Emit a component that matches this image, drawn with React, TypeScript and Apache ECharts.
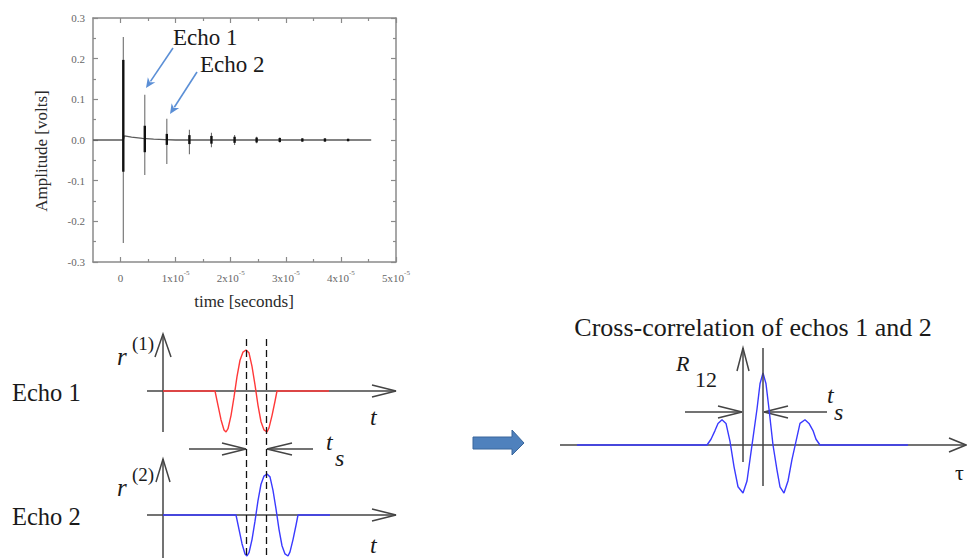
import React, { useEffect, useRef } from 'react';
import * as echarts from 'echarts';

// ---------- Top plot data (time in units of 1e-5 s, amplitude in volts) ----------
const echoTimes = [0.05, 0.44, 0.84, 1.25, 1.65, 2.07, 2.47, 2.89, 3.3, 3.71, 4.13];
const echoMax = [0.253, 0.111, 0.052, 0.025, 0.018, 0.012, 0.008, 0.006, 0.004, 0.004, 0.003];
const echoMin = [-0.253, -0.086, -0.059, -0.035, -0.018, -0.012, -0.008, -0.006, -0.004, -0.004, -0.003];
const coreMax = [0.197, 0.035, 0.015, 0.012, 0.01, 0.008, 0.006, 0.005, 0.004, 0.004, 0.003];
const coreMin = [-0.078, -0.03, -0.012, -0.01, -0.009, -0.007, -0.006, -0.005, -0.004, -0.004, -0.003];
const baseT = [-0.5, 0.05, 0.07, 0.2, 0.4, 0.6, 0.8, 1.0, 4.55];
const baseAmp = [0, 0, 0.01, 0.007, 0.004, 0.002, 0.001, 0, 0];
const xMajorTicks = [0, 1, 2, 3, 4, 5];
const xMinorTicks = [0.5, 1.5, 2.5, 3.5, 4.5];

// ---------- Echo pulse schematic ----------
const pulseOffset = [0, 3, 6, 9, 11, 13, 16, 19, 22, 25, 28, 31, 34, 37, 40, 43, 46, 49, 52, 54, 57, 60, 62];
const pulseAmp = [0, -0.35, -0.7, -0.95, -1, -0.92, -0.6, -0.15, 0.35, 0.75, 0.95, 1, 0.93, 0.6, 0.15, -0.35, -0.75, -0.95, -1, -0.9, -0.6, -0.25, 0];
const echo1Start = 52;
const echo1End = 166;
const echo2Start = 73;
const echo2End = 167;

// ---------- Cross-correlation schematic ----------
const xcorrT = [17, 147, 151, 155, 158, 162, 166, 170, 174, 178, 183, 187, 190, 193, 197, 200, 203, 206, 209, 213, 217, 220, 224, 228, 232, 236, 240, 245, 249, 253, 256, 260, 348];
const xcorrAmp = [0, 0, 0.08, 0.2, 0.3, 0.35, 0.3, 0.05, -0.3, -0.58, -0.667, -0.5, -0.2, 0.1, 0.5, 0.85, 1, 0.85, 0.5, 0, -0.35, -0.58, -0.667, -0.5, -0.2, 0.05, 0.3, 0.35, 0.3, 0.2, 0.08, 0, 0];

const FONT = 'Liberation Serif, serif';

function seg(x1: number, y1: number, x2: number, y2: number, stroke = '#444', lineWidth = 1.5, lineDash?: number[], z = 1) {
  return { type: 'line', z, silent: true, shape: { x1, y1, x2, y2 }, style: { stroke, lineWidth, lineDash } };
}
function poly(points: number[][], stroke = '#444', lineWidth = 1.5) {
  return { type: 'polyline', silent: true, shape: { points }, style: { stroke, lineWidth, fill: null } };
}
function txt(x: number, y: number, text: string, size: number, opts: any = {}) {
  return {
    type: 'text', silent: true, x, y, rotation: opts.rotation || 0,
    style: {
      text, fill: opts.color || '#1a1a1a', fontFamily: FONT, fontSize: size,
      fontStyle: opts.italic ? 'italic' : 'normal',
      align: opts.align || 'left', verticalAlign: 'middle',
    },
  };
}
function blueArrow(x1: number, y1: number, x2: number, y2: number) {
  const dx = x2 - x1, dy = y2 - y1;
  const L = Math.hypot(dx, dy);
  const ux = dx / L, uy = dy / L;
  const px = -uy, py = ux;
  const hl = 10, hw = 4.5;
  const bx = x2 - ux * hl, by = y2 - uy * hl;
  return [
    seg(x1, y1, bx + ux * 2, by + uy * 2, '#5b8fd6', 1.6),
    { type: 'polygon', silent: true, shape: { points: [[x2, y2], [bx + px * hw, by + py * hw], [bx + ux * 3, by + uy * 3], [bx - px * hw, by - py * hw]] }, style: { fill: '#5b8fd6' } },
  ];
}

export default function App() {
  const ref = useRef<HTMLDivElement>(null);
  useEffect(() => {
    if (!ref.current) return;
    const chart = echarts.init(ref.current, null, { renderer: 'svg' });

    const baseData = baseT.map((t, i) => [t, baseAmp[i]]);
    const spikeData = echoTimes.map((t, i) => [t, echoMax[i], echoMin[i]]);
    const coreData = echoTimes.map((t, i) => [t, coreMax[i], coreMin[i]]);
    const echo1Data = [[0, 0], ...pulseOffset.map((o, i) => [echo1Start + o, pulseAmp[i]]), [echo1End, 0]];
    const echo2Data = [[0, 0], ...pulseOffset.map((o, i) => [echo2Start + o, pulseAmp[i]]), [echo2End, 0]];
    const xcorrData = xcorrT.map((t, i) => [t, xcorrAmp[i]]);

    const axisGray = '#8a8a8a';
    const frameX = (position: string, ticks: number[], len: number, labels: boolean, line: boolean) => ({
      type: 'value', gridIndex: 0, position, min: -0.5, max: 5,
      axisLine: { show: line, onZero: false, lineStyle: { color: axisGray, width: 1.5 } },
      axisTick: { show: true, inside: true, length: len, customValues: ticks, lineStyle: { color: axisGray, width: 1.2 } },
      axisLabel: labels ? {
        show: true, customValues: xMajorTicks, margin: 7, color: '#666',
        formatter: (v: number) => (v === 0 ? '{n|0}' : `{n|${v}x10}{s|-5}`),
        rich: {
          n: { fontFamily: FONT, fontSize: 11, color: '#666', lineHeight: 14, verticalAlign: 'bottom' },
          s: { fontFamily: FONT, fontSize: 7, color: '#666', lineHeight: 14, verticalAlign: 'top' },
        },
      } : { show: false },
      splitLine: { show: false },
    });
    const frameY = (position: string, labels: boolean) => ({
      type: 'value', gridIndex: 0, position, min: -0.3, max: 0.3, interval: 0.1,
      axisLine: { show: true, onZero: false, lineStyle: { color: axisGray, width: 1.5 } },
      axisTick: { show: true, inside: true, length: 5, lineStyle: { color: axisGray, width: 1.2 } },
      minorTick: { show: true, splitNumber: 2, length: 3, lineStyle: { color: axisGray, width: 1.2 } },
      axisLabel: labels ? { show: true, margin: 8, color: '#666', fontFamily: FONT, fontSize: 11, formatter: (v: number) => v.toFixed(1) } : { show: false },
      splitLine: { show: false },
    });
    const hiddenX = (gridIndex: number, max: number) => ({ type: 'value', gridIndex, min: 0, max, show: false });
    const hiddenY = (gridIndex: number, min: number, max: number) => ({ type: 'value', gridIndex, min, max, show: false });

    const spikeRender = (color: string, width: number) => (params: any, api: any) => {
      const p1 = api.coord([api.value(0), api.value(1)]);
      const p2 = api.coord([api.value(0), api.value(2)]);
      return { type: 'line', shape: { x1: p1[0], y1: p1[1], x2: p2[0], y2: p2[1] }, style: { stroke: color, lineWidth: width } };
    };

    const graphics: any[] = [
      // top plot titles
      txt(41, 151, 'Amplitude [volts]', 17, { rotation: Math.PI / 2, align: 'center', color: '#2a2a2a' }),
      txt(244, 301, 'time [seconds]', 17, { align: 'center', color: '#2a2a2a' }),
      txt(173, 37, 'Echo 1', 23),
      txt(200, 64, 'Echo 2', 23),
      ...blueArrow(173, 48, 146, 88),
      ...blueArrow(197, 72, 170, 114),

      // Echo 1 schematic axes
      seg(163, 334, 163, 432),
      poly([[155, 357], [163, 334], [171, 357]]),
      seg(147, 391, 396, 391),
      poly([[372, 385], [396, 391], [372, 397]]),
      // Echo 2 schematic axes
      seg(163, 459, 163, 558),
      poly([[156, 482], [163, 459], [170, 482]]),
      seg(147, 515, 396, 515),
      poly([[372, 509], [396, 515], [372, 521]]),
      // dashed markers
      seg(246.5, 339, 246.5, 558, '#111', 1.3, [7, 4], 10),
      seg(266.5, 339, 266.5, 558, '#111', 1.3, [7, 4], 10),
      // t_s arrows (left)
      seg(189, 449, 246, 449),
      poly([[222, 443], [246, 449], [222, 455]]),
      seg(313, 449, 267, 449),
      poly([[292, 443], [267, 449], [292, 455]]),
      txt(326, 442, 't', 24, { italic: true }),
      txt(335, 458, 's', 24, { italic: true }),

      // labels left
      txt(12, 392, 'Echo 1', 24.5),
      txt(12, 516, 'Echo 2', 24.5),
      txt(117, 356, 'r', 25, { italic: true }),
      txt(132, 343, '(1)', 19),
      txt(117, 487, 'r', 25, { italic: true }),
      txt(132, 474, '(2)', 19),
      txt(370, 417, 't', 24, { italic: true }),
      txt(370, 545, 't', 24, { italic: true }),

      // big blue arrow
      { type: 'polygon', silent: true, shape: { points: [[473, 437], [512, 437], [512, 430], [524, 443], [512, 455], [512, 449], [473, 449]] }, style: { fill: '#4f81bd', stroke: '#3a679c', lineWidth: 1 } },

      // cross-correlation
      txt(753, 327, 'Cross-correlation of echos 1 and 2', 26, { align: 'center' }),
      seg(560, 445, 966, 445),
      poly([[949, 438], [966, 445], [949, 452]]),
      seg(743, 348, 743, 462),
      poly([[737, 371], [743, 348], [749, 371]]),
      seg(763, 348, 763, 486, '#444', 1.5, undefined, 10),
      seg(685, 412, 742, 412),
      poly([[718, 406], [742, 412], [718, 418]]),
      seg(827, 412, 764, 412),
      poly([[788, 406], [764, 412], [788, 418]]),
      txt(676, 363, 'R', 22, { italic: true }),
      txt(695, 379, '12', 22),
      txt(827, 395, 't', 24, { italic: true }),
      txt(834, 412, 's', 24, { italic: true }),
      txt(955, 472, 'τ', 22),
    ];

    chart.setOption({
      animation: false,
      backgroundColor: '#ffffff',
      grid: [
        { left: 93, top: 18, width: 303, height: 244 },
        { left: 163, top: 341.8, width: 234, height: 98.4 },
        { left: 163, top: 465.8, width: 234, height: 91.84 },
        { left: 560, top: 358.6, width: 407, height: 158.4 },
      ],
      xAxis: [
        frameX('bottom', xMajorTicks, 5, true, true),
        frameX('bottom', xMinorTicks, 3, false, false),
        frameX('top', xMajorTicks, 5, false, true),
        frameX('top', xMinorTicks, 3, false, false),
        hiddenX(1, 234),
        hiddenX(2, 234),
        hiddenX(3, 407),
      ],
      yAxis: [
        frameY('left', true),
        frameY('right', false),
        hiddenY(1, -1.2, 1.2),
        hiddenY(2, -1.04, 1.2),
        hiddenY(3, -1, 1.2),
      ],
      graphic: graphics,
      series: [
        { type: 'line', xAxisIndex: 0, yAxisIndex: 0, data: baseData, symbol: 'none', lineStyle: { color: '#5a5a5a', width: 1.3 }, z: 2 },
        { type: 'custom', xAxisIndex: 0, yAxisIndex: 0, data: spikeData, renderItem: spikeRender('#6e6e6e', 1.1), z: 3 },
        { type: 'custom', xAxisIndex: 0, yAxisIndex: 0, data: coreData, renderItem: spikeRender('#111111', 2.4), z: 4 },
        { type: 'line', xAxisIndex: 4, yAxisIndex: 2, data: echo1Data, symbol: 'none', lineStyle: { color: '#ff3838', width: 1.4 }, z: 5 },
        { type: 'line', xAxisIndex: 5, yAxisIndex: 3, data: echo2Data, symbol: 'none', lineStyle: { color: '#3a3aff', width: 1.4 }, z: 5 },
        { type: 'line', xAxisIndex: 6, yAxisIndex: 4, data: xcorrData, symbol: 'none', lineStyle: { color: '#3a3aff', width: 1.4 }, z: 5 },
      ],
    });
    return () => chart.dispose();
  }, []);
  return <div ref={ref} style={{ position: 'absolute', left: 0, top: 0, width: 967, height: 558 }} />;
}
